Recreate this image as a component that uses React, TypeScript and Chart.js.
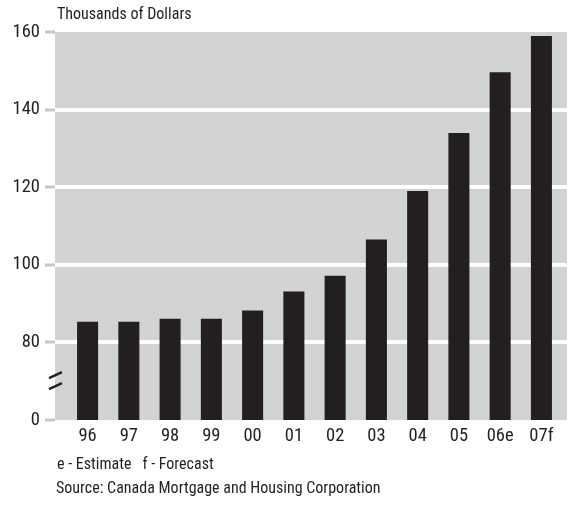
import React, { useEffect, useRef } from "react";
import { Chart, registerables } from "chart.js";

Chart.register(...registerables);

const categories = ["96", "97", "98", "99", "00", "01", "02", "03", "04", "05", "06e", "07f"];
const prices = [85.3, 85.3, 86.1, 86.1, 88.2, 93.1, 97.2, 106.5, 119, 134, 149.6, 159];
const yTickValues = [60, 80, 100, 120, 140, 160];
const yTickLabels = ["0", "80", "100", "120", "140", "160"];
const titleText = "Thousands of Dollars";
const noteText = "e - Estimate   f - Forecast";
const sourceText = "Source: Canada Mortgage and Housing Corporation";

const FAMILY = "Roboto, 'Open Sans', sans-serif";
const STRETCH = "condensed";
const INK = "#231f20";
const PANEL = "#d1d3d4";
const TICK_GREY = "#c4c6c8";

const panelPlugin = {
  id: "panelBg",
  beforeDraw(chart: any) {
    const { ctx, chartArea } = chart;
    ctx.save();
    ctx.fillStyle = PANEL;
    ctx.fillRect(chartArea.left, chartArea.top, chartArea.right - chartArea.left, chartArea.bottom - chartArea.top);
    ctx.restore();
  },
};

const annotationsPlugin = {
  id: "annotations",
  afterDraw(chart: any) {
    const { ctx, chartArea, scales } = chart;
    ctx.save();
    ctx.fillStyle = INK;
    ctx.textBaseline = "alphabetic";
    ctx.textAlign = "left";
    ctx.font = `${STRETCH} 16px ${FAMILY}`;
    ctx.fillText(titleText, chartArea.left + 2, 19);
    ctx.fillText(noteText, chartArea.left + 2, 469);
    ctx.fillText(sourceText, chartArea.left + 1, 493);
    // axis break marks
    const yb = scales.y.getPixelForValue(70);
    const x0 = chartArea.left - 6;
    const x1 = chartArea.left + 7;
    ctx.strokeStyle = INK;
    ctx.lineWidth = 2.5;
    ctx.beginPath();
    ctx.moveTo(x0, yb - 3);
    ctx.lineTo(x1, yb - 9);
    ctx.moveTo(x0, yb + 8);
    ctx.lineTo(x1, yb + 2);
    ctx.stroke();
    ctx.restore();
  },
};

export default function App() {
  const canvasRef = useRef<HTMLCanvasElement | null>(null);

  useEffect(() => {
    if (!canvasRef.current) return;
    const chart = new Chart(canvasRef.current, {
      type: "bar",
      data: {
        datasets: [
          {
            data: prices.map((v, i) => ({ x: i, y: v })),
            backgroundColor: INK,
            borderWidth: 0,
            categoryPercentage: 1,
            barPercentage: 0.51,
          },
        ],
      },
      options: {
        animation: false,
        responsive: false,
        devicePixelRatio: 1,
        layout: { padding: { top: 32, right: 1, bottom: 60, left: 0 } },
        plugins: {
          legend: { display: false },
          tooltip: { enabled: false },
        },
        scales: {
          x: {
            type: "linear",
            offset: false,
            min: -0.79,
            max: 11.62,
            grid: { display: false, drawTicks: false },
            border: { display: false },
            afterBuildTicks: (scale: any) => {
              scale.ticks = categories.map((_, i) => ({ value: i }));
            },
            afterFit: (scale: any) => {
              scale.height = 30;
            },
            ticks: {
              autoSkip: false,
              maxRotation: 0,
              padding: 5,
              color: INK,
              font: { family: FAMILY, size: 18.5, weight: STRETCH },
              callback: (v: any) => categories[v] ?? "",
            },
          },
          y: {
            type: "linear",
            min: 60,
            max: 160,
            afterBuildTicks: (scale: any) => {
              scale.ticks = yTickValues.map((v) => ({ value: v }));
            },
            afterFit: (scale: any) => {
              scale.width = 55;
            },
            grid: {
              color: (c: any) => (c.tick && (c.tick.value === 60 || c.tick.value === 160) ? "rgba(0,0,0,0)" : "#ffffff"),
              lineWidth: 4,
              tickColor: TICK_GREY,
              tickWidth: 3,
              tickLength: 10,
            },
            border: { display: false },
            ticks: {
              padding: 5,
              color: INK,
              font: { family: FAMILY, size: 18.5, weight: STRETCH },
              callback: (v: any) => {
                const i = yTickValues.indexOf(v);
                return i >= 0 ? yTickLabels[i] : "";
              },
            },
          },
        },
      },
      plugins: [panelPlugin, annotationsPlugin],
    } as any);
    return () => chart.destroy();
  }, []);

  return (
    <div style={{ position: "absolute", left: 0, top: 0, width: 568, height: 510, background: "#fff" }}>
      <canvas ref={canvasRef} width={568} height={510} />
    </div>
  );
}
